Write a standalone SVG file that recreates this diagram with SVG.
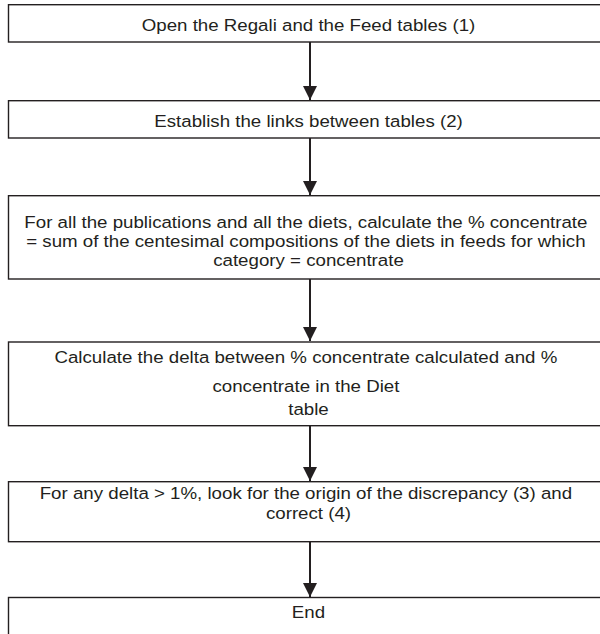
<svg xmlns="http://www.w3.org/2000/svg" width="600" height="634" viewBox="0 0 600 634">
<style>
.box{fill:#fff;stroke:#231f20;stroke-width:1.4}
.lbl{font-family:"Liberation Sans",Arial,sans-serif;font-size:17px;fill:#231f20;text-anchor:middle}
.shaft{stroke:#231f20;stroke-width:2;fill:none}
</style>
<defs>
<marker id="ah" markerUnits="userSpaceOnUse" markerWidth="14" markerHeight="14" refX="13" refY="6.5" orient="auto" viewBox="0 0 13 13">
<path d="M0,0 L13,6.5 L0,13 Z" fill="#231f20"/>
</marker>
</defs>
<rect width="600" height="634" fill="#fff"/>
<g id="connectors">
<line class="shaft" x1="310" y1="42" x2="310" y2="100" marker-end="url(#ah)"/>
<line class="shaft" x1="310" y1="138" x2="310" y2="195" marker-end="url(#ah)"/>
<line class="shaft" x1="310" y1="279" x2="310" y2="341" marker-end="url(#ah)"/>
<line class="shaft" x1="310" y1="425.7" x2="310" y2="481" marker-end="url(#ah)"/>
<line class="shaft" x1="310" y1="541.7" x2="310" y2="597" marker-end="url(#ah)"/>
</g>
<g id="n1">
<rect class="box" x="8.5" y="4.7" width="600" height="37.3"/>
<text class="lbl" transform="translate(308.5,30.5) scale(1.1,1)" x="0" y="0">Open the Regali and the Feed tables (1)</text>
</g>
<g id="n2">
<rect class="box" x="8.5" y="100.7" width="600" height="37.3"/>
<text class="lbl" transform="translate(308.5,126.7) scale(1.1,1)" x="0" y="0">Establish the links between tables (2)</text>
</g>
<g id="n3">
<rect class="box" x="8.5" y="195.7" width="600" height="83.3"/>
<text class="lbl" transform="translate(308.5,0) scale(1.1,1)">
<tspan x="0" y="228.5">For all the publications and all the diets, calculate the % concentrate</tspan>
<tspan x="0" y="247.5">= sum of the centesimal compositions of the diets in feeds for which</tspan>
<tspan x="0" y="266.5">category = concentrate</tspan>
</text>
</g>
<g id="n4">
<rect class="box" x="8.5" y="342" width="600" height="83.7"/>
<text class="lbl" transform="translate(308.5,0) scale(1.1,1)">
<tspan x="0" y="363.3">Calculate the delta between % concentrate calculated and %</tspan>
<tspan x="0" y="391.7">concentrate in the Diet</tspan>
<tspan x="0" y="415">table</tspan>
</text>
</g>
<g id="n5">
<rect class="box" x="8.5" y="481.7" width="600" height="60"/>
<text class="lbl" transform="translate(308.5,0) scale(1.1,1)">
<tspan x="0" y="499">For any delta &gt; 1%, look for the origin of the discrepancy (3) and</tspan>
<tspan x="0" y="519">correct (4)</tspan>
</text>
</g>
<g id="n6">
<rect class="box" x="8.5" y="597.5" width="600" height="50"/>
<text class="lbl" transform="translate(308.5,618) scale(1.1,1)" x="0" y="0">End</text>
</g>
</svg>
